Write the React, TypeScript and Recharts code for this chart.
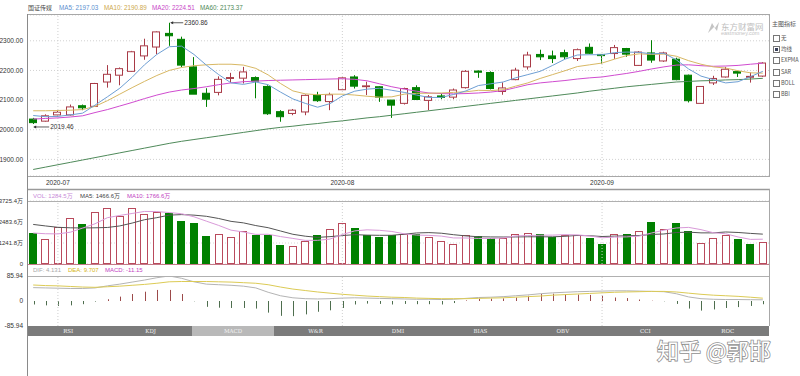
import React from "react";
import {
  ComposedChart,
  Bar,
  Line,
  XAxis,
  YAxis,
  CartesianGrid,
  ReferenceLine,
  ReferenceDot,
  ReferenceArea,
} from "recharts";

const SANS = '"Liberation Sans", Arial, "Noto Sans CJK SC", sans-serif';
const CJK = '"Noto Sans CJK SC", "Liberation Sans", sans-serif';

// ---------- data ----------
const dates = [
  "2020-06-29", "2020-06-30",
  "2020-07-01", "2020-07-02", "2020-07-03", "2020-07-06", "2020-07-07", "2020-07-08", "2020-07-09", "2020-07-10",
  "2020-07-13", "2020-07-14", "2020-07-15", "2020-07-16", "2020-07-17", "2020-07-20", "2020-07-21", "2020-07-22",
  "2020-07-23", "2020-07-24", "2020-07-27", "2020-07-28", "2020-07-29", "2020-07-30", "2020-07-31",
  "2020-08-03", "2020-08-04", "2020-08-05", "2020-08-06", "2020-08-07", "2020-08-10", "2020-08-11", "2020-08-12",
  "2020-08-13", "2020-08-14", "2020-08-17", "2020-08-18", "2020-08-19", "2020-08-20", "2020-08-21", "2020-08-24",
  "2020-08-25", "2020-08-26", "2020-08-27", "2020-08-28", "2020-08-31",
  "2020-09-01", "2020-09-02", "2020-09-03", "2020-09-04", "2020-09-07", "2020-09-08", "2020-09-09", "2020-09-10",
  "2020-09-11", "2020-09-14", "2020-09-15", "2020-09-16", "2020-09-17", "2020-09-18",
];

const opens = [
  2036, 2029, 2050, 2050, 2081, 2079, 2161, 2184, 2197, 2249,
  2279, 2325, 2305, 2212, 2123, 2126, 2173, 2174, 2176, 2146,
  2061, 2055, 2060, 2117, 2095, 2135, 2178, 2147, 2145, 2100,
  2089, 2142, 2099, 2114, 2110, 2142, 2198, 2193, 2129, 2169,
  2212, 2254, 2249, 2260, 2240, 2278, 2254, 2257, 2274, 2217,
  2259, 2232, 2238, 2184, 2089, 2158, 2178, 2196, 2177, 2181,
];
const highs = [
  2040, 2052, 2066, 2085, 2085, 2158, 2218, 2210, 2266, 2307,
  2332, 2360.86, 2314, 2245, 2140, 2180, 2192, 2212, 2180, 2150,
  2066, 2070, 2119, 2128, 2125, 2177, 2184, 2162, 2147, 2100,
  2142, 2150, 2117, 2122, 2139, 2201, 2200, 2197, 2160, 2209,
  2263, 2270, 2267, 2270, 2274, 2291, 2254, 2286, 2276, 2265,
  2302, 2263, 2243, 2186, 2147, 2182, 2212, 2199, 2193, 2228,
];
const lows = [
  2019.46, 2027, 2044, 2048, 2066, 2077, 2142, 2150, 2195, 2236,
  2255, 2283, 2211, 2120, 2077, 2116, 2160, 2156, 2106, 2050,
  2027, 2049, 2049, 2094, 2066, 2134, 2139, 2117, 2094, 2040,
  2085, 2100, 2066, 2103, 2103, 2139, 2175, 2136, 2118, 2167,
  2203, 2235, 2225, 2238, 2232, 2255, 2223, 2239, 2246, 2215,
  2226, 2229, 2167, 2092, 2088, 2151, 2176, 2178, 2159, 2178,
];
const closes = [
  2024, 2047, 2059, 2077, 2074, 2156, 2187, 2206, 2263, 2283,
  2330, 2317, 2218, 2120, 2103, 2170, 2176, 2195, 2164, 2054,
  2044, 2066, 2116, 2098, 2118, 2175, 2147, 2148, 2110, 2083,
  2139, 2102, 2111, 2109, 2134, 2197, 2194, 2139, 2141, 2201,
  2252, 2246, 2240, 2246, 2270, 2258, 2250, 2277, 2255, 2262,
  2235, 2259, 2169, 2098, 2146, 2173, 2204, 2191, 2180, 2225,
];

const ma5 = [
  2048, 2044, 2045, 2050, 2056, 2083, 2111, 2140, 2177, 2219,
  2254, 2280, 2282, 2254, 2218, 2186, 2158, 2153, 2161, 2152,
  2127, 2104, 2089, 2076, 2088, 2114, 2130, 2137, 2140, 2133,
  2126, 2117, 2109, 2109, 2119, 2131, 2149, 2155, 2161, 2175,
  2186, 2197, 2217, 2238, 2252, 2253, 2253, 2260, 2262, 2261,
  2256, 2258, 2236, 2205, 2181, 2169, 2158, 2162, 2179, 2197.03,
];
const ma10 = [
  2064, 2064, 2065, 2066, 2068, 2079, 2098, 2120, 2142, 2163,
  2183, 2200, 2210, 2216, 2219, 2221, 2221, 2218, 2207, 2185,
  2156, 2131, 2121, 2118, 2120, 2120, 2117, 2113, 2110, 2111,
  2120, 2123, 2123, 2124, 2126, 2128, 2133, 2132, 2135, 2147,
  2158, 2173, 2186, 2199, 2213, 2219, 2225, 2238, 2250, 2256,
  2254, 2255, 2248, 2233, 2221, 2212, 2208, 2199, 2192, 2190.89,
];
const ma20 = [
  2036, 2038, 2040, 2043, 2047, 2058, 2068, 2080, 2092, 2105,
  2117, 2127, 2134, 2139, 2145, 2152, 2158, 2162, 2164, 2166,
  2167, 2168, 2169, 2170, 2171, 2172, 2170, 2165, 2155, 2145,
  2137, 2130, 2124, 2122, 2121, 2122, 2124, 2127, 2132, 2142,
  2152, 2158, 2162, 2166, 2171, 2175, 2178, 2184, 2190, 2197,
  2205, 2212, 2218, 2219, 2216, 2214, 2215, 2217, 2221, 2224.51,
];
const ma60 = [
  1866, 1874, 1882, 1890, 1898, 1906, 1914, 1922, 1930, 1938,
  1946, 1954, 1961, 1967, 1973, 1979, 1985, 1991, 1997, 2003,
  2008, 2012, 2017, 2021, 2026, 2030, 2035, 2040, 2044, 2049,
  2054, 2059, 2064, 2069, 2074, 2079, 2084, 2089, 2094, 2099,
  2104, 2109, 2114, 2119, 2124, 2130, 2135, 2140, 2145, 2149,
  2153, 2157, 2161, 2163, 2165, 2166, 2168, 2169, 2171, 2173.37,
];

// volume in 万
const volumes = [
  1833, 1500, 2204, 2730, 2360, 3100, 3296, 2867, 3315, 2964,
  3062, 3003, 2516, 2418, 1677, 1794, 1599, 1970, 1716, 1716,
  1112, 1053, 1385, 1736, 2087, 2438, 2145, 1697, 1599, 1736,
  1755, 1775, 1599, 1385, 1190, 1736, 1658, 1560, 1560, 1775,
  1853, 1755, 1599, 1697, 1697, 1560, 1209, 1794, 1755, 1931,
  2477, 2048, 2438, 1931, 1268, 1560, 1736, 1502, 1209, 1284.5,
];
const volRise = [
  0, 1, 1, 1, 0, 1, 1, 1, 1, 1,
  1, 0, 0, 0, 0, 1, 1, 1, 0, 0,
  0, 1, 1, 0, 1, 1, 0, 0, 0, 0,
  1, 0, 1, 1, 1, 1, 0, 0, 1, 1,
  1, 0, 0, 1, 1, 0, 0, 1, 0, 1,
  0, 1, 0, 0, 1, 1, 1, 0, 0, 1,
];
const volMa5 = [
  1830, 1790, 1780, 1880, 2125, 2379, 2738, 2871, 2988, 3108,
  3101, 3042, 2972, 2793, 2535, 2282, 2001, 1892, 1751, 1759,
  1623, 1513, 1396, 1400, 1475, 1740, 1958, 2021, 1993, 1923,
  1786, 1712, 1693, 1650, 1541, 1537, 1514, 1506, 1541, 1658,
  1681, 1701, 1708, 1736, 1720, 1662, 1552, 1591, 1603, 1650,
  1833, 2001, 2130, 2165, 2032, 1849, 1787, 1599, 1455, 1466.6,
];
const volMa10 = [
  2340, 2250, 2170, 2140, 2130, 2140, 2160, 2250, 2420, 2617,
  2740, 2890, 2921, 2890, 2821, 2691, 2521, 2432, 2272, 2147,
  1952, 1757, 1644, 1575, 1617, 1681, 1735, 1708, 1696, 1699,
  1763, 1835, 1857, 1821, 1732, 1661, 1613, 1600, 1595, 1600,
  1609, 1607, 1607, 1638, 1689, 1671, 1626, 1649, 1669, 1685,
  1747, 1776, 1860, 1884, 1841, 1841, 1894, 1864, 1810, 1766.6,
];

const dif = [
  46, 45, 44, 43, 43, 45, 52, 58, 65, 72,
  80, 86, 78, 66, 58, 56, 54, 51, 45, 30,
  18, 11, 8, 7, 8, 10, 11, 10, 9, 8,
  7, 6, 6, 5, 6, 9, 12, 13, 15, 18,
  21, 25, 28, 30, 32, 33, 34, 35, 35, 34,
  33, 32, 25, 14, 8, 6, 5, 5, 4.5, 4.131,
];
const dea = [
  55, 53, 52, 50, 48, 47, 49, 51, 54, 57,
  61, 66, 67, 67, 67, 66, 65, 63, 61, 56,
  48, 41, 36, 31, 27, 23, 20, 17, 15, 13,
  12, 10, 9, 8, 8, 8, 9, 10, 11, 13,
  15, 17, 20, 22, 24, 26, 28, 30, 31, 32,
  33, 33, 31, 27, 23, 20, 18, 16, 13, 9.707,
];
const macdHist = [
  -12, -15, -17, -15, -11, -2, 6, 15, 24, 32,
  38, 38, 24, -1, -20, -23, -24, -24, -26, -40,
  -51, -52, -46, -37, -32, -24, -12, -9, -10, -12,
  -10, -11, -11, -12, -7, 2, 7, 8, 9, 12,
  18, 24, 25, 24, 22, 21, 18, 12, 10, 5,
  1, -1, -10, -26, -33, -29, -24, -21, -17, -11.15,
];

const monthTicks = ["2020-07-01", "2020-08-03", "2020-09-01"];
const priceTicks = [1900, 2000, 2100, 2200, 2300];
const volTicks = [0, 1241.8, 2483.6, 3725.4];
const macdTicks = [-85.94, 0, 85.94];
const yearTicks = [2015, 2016, 2017, 2018, 2019, 2020];
const indicatorTabs = ["RSI", "KDJ", "MACD", "W&R", "DMI", "BIAS", "OBV", "CCI", "ROC"];
const activeTab = "MACD";
const mainOptions = ["无", "均线", "EXPMA", "SAR", "BOLL", "BBI"];
const checkedOption = "均线";
const stockName = "国证传媒";

// ---------- colors ----------
const UP = "#a83a46";
const DOWN = "#008000";
const VOL_UP = "#b94a5c";
const MACD_UP = "#9c4a4a";
const MACD_DOWN = "#4e6e4e";

const rows = dates.map((date, i) => ({
  date,
  open: opens[i],
  high: highs[i],
  low: lows[i],
  close: closes[i],
  ma5: ma5[i],
  ma10: ma10[i],
  ma20: ma20[i],
  ma60: ma60[i],
  vol: volumes[i],
  volUp: volRise[i],
  vma5: volMa5[i],
  vma10: volMa10[i],
  dif: dif[i],
  dea: dea[i],
  macd: macdHist[i],
}));

const toYear = (d: string) => {
  const dt = new Date(d + "T00:00:00Z");
  const y = dt.getUTCFullYear();
  const s = Date.UTC(y, 0, 1);
  const e = Date.UTC(y + 1, 0, 1);
  return y + (dt.getTime() - s) / (e - s);
};
const winStart = toYear(dates[0]);
const winEnd = toYear(dates[dates.length - 1]);
const navRows = yearTicks.map((t) => ({ t }));

const last = (a: number[]) => a[a.length - 1];
const hiIdx = highs.indexOf(Math.max(...highs));
const loIdx = lows.indexOf(Math.min(...lows));

// ---------- shapes ----------
const Candle = (props: any) => {
  const { x, y, width, height, payload } = props;
  if (!payload) return null;
  const { open, close, high, low } = payload;
  const pHigh = Math.min(y, y + height);
  const pLow = Math.max(y, y + height);
  const span = high - low || 1;
  const toY = (v: number) => pHigh + ((high - v) / span) * (pLow - pHigh);
  const cx = Math.floor(x + width / 2) + 0.5;
  const rising = close >= open;
  const color = rising ? UP : DOWN;
  const yTop = toY(Math.max(open, close));
  const yBot = toY(Math.min(open, close));
  const bodyH = Math.max(yBot - yTop, 0.8);
  return (
    <g>
      <line x1={cx} x2={cx} y1={pHigh} y2={yTop} stroke={color} strokeWidth={1} />
      <line x1={cx} x2={cx} y1={yTop + bodyH} y2={pLow} stroke={color} strokeWidth={1} />
      <rect
        x={cx - 4}
        y={yTop}
        width={7}
        height={bodyH}
        fill={rising ? "#ffffff" : DOWN}
        stroke={color}
        strokeWidth={1}
      />
    </g>
  );
};

const VolBar = (props: any) => {
  const { x, y, width, height, payload } = props;
  if (!payload) return null;
  const top = Math.min(y, y + height);
  const bottom = Math.max(y, y + height);
  const rising = payload.volUp === 1;
  const l = Math.round(x) + 0.5;
  const t = Math.round(top) + 0.5;
  const h = Math.max(Math.round(bottom) - Math.round(top) - 1, 0);
  return (
    <rect
      x={l}
      y={t}
      width={Math.round(width) - 1}
      height={h}
      fill={rising ? "#ffffff" : DOWN}
      stroke={rising ? VOL_UP : DOWN}
      strokeWidth={1}
    />
  );
};

const MacdBar = (props: any) => {
  const { x, y, width, height, payload } = props;
  if (!payload) return null;
  const cx = Math.round(x + width / 2) + 0.5;
  return (
    <line
      x1={cx}
      x2={cx}
      y1={y}
      y2={y + height}
      stroke={payload.macd >= 0 ? MACD_UP : MACD_DOWN}
      strokeWidth={1}
    />
  );
};

const PeakMark = (p: any) => {
  const { cx, cy } = p;
  return (
    <g>
      <line x1={cx + 2} x2={cx + 14} y1={cy} y2={cy} stroke="#333" strokeWidth={0.8} />
      <path d={`M${cx + 1},${cy} l3,-1.6 l0,3.2 z`} fill="#333" />
      <text x={cx + 15} y={cy + 2.3} fontSize={6.5} fill="#333" fontFamily={SANS}>
        {highs[hiIdx].toFixed(2)}
      </text>
    </g>
  );
};

const TroughMark = (p: any) => {
  const { cx, cy } = p;
  const ly = cy + 3;
  return (
    <g>
      <line x1={cx + 1} x2={cx + 16} y1={ly} y2={ly} stroke="#333" strokeWidth={0.8} />
      <path d={`M${cx},${ly} l3,-1.6 l0,3.2 z`} fill="#333" />
      <text x={cx + 17} y={ly + 2.3} fontSize={6.5} fill="#333" fontFamily={SANS}>
        {lows[loIdx].toFixed(2)}
      </text>
    </g>
  );
};

const YearTick = (props: any) => {
  const { x, y, payload } = props;
  const px = Math.round(x) + 0.5;
  return (
    <g>
      <line x1={px} x2={px} y1={y - 15} y2={y} stroke="#666" strokeWidth={1} />
      <text x={px + 1.5} y={y - 7.5} fontSize={6.5} fill="#333" fontFamily={SANS}>
        {payload.value}
      </text>
    </g>
  );
};

const tickStyle = { fontSize: 6.5, fill: "#333", fontFamily: SANS };

export default function App() {
  return (
    <div
      style={{
        position: "absolute",
        left: 0,
        top: 0,
        width: 800,
        height: 376,
        overflow: "hidden",
        background: "#fff",
        fontFamily: SANS,
      }}
    >
      {/* main candlestick panel */}
      <div style={{ position: "absolute", left: 0, top: 0 }}>
        <ComposedChart width={800} height={188} data={rows} margin={{ top: 15, right: 31, bottom: 0, left: 0 }}>
          <CartesianGrid vertical={false} stroke="#d2d2d2" strokeDasharray="1 2" />
          <XAxis
            dataKey="date"
            ticks={monthTicks}
            interval={0}
            tickFormatter={(d: string) => d.slice(0, 7)}
            axisLine={false}
            tickLine={false}
            tickSize={0}
            tickMargin={4}
            height={12}
            tick={tickStyle}
          />
          <YAxis
            domain={[1844, 2387]}
            allowDataOverflow
            ticks={priceTicks}
            tickFormatter={(v: number) => v.toFixed(2)}
            width={27}
            axisLine={false}
            tickLine={false}
            tickSize={2}
            tickMargin={2}
            tick={tickStyle}
          />
          {monthTicks.map((d) => (
            <ReferenceLine key={d} x={d} stroke="#cfcfcf" strokeDasharray="1 2" />
          ))}
          <Bar dataKey={(r: any) => [r.low, r.high]} barSize={8} shape={Candle} isAnimationActive={false} />
          <Line dataKey="ma60" stroke="#4f8a5a" strokeWidth={1} dot={false} isAnimationActive={false} />
          <Line dataKey="ma20" stroke="#d04cd0" strokeWidth={1} dot={false} isAnimationActive={false} />
          <Line dataKey="ma10" stroke="#d8b864" strokeWidth={1} dot={false} isAnimationActive={false} />
          <Line dataKey="ma5" stroke="#6e9fd4" strokeWidth={1} dot={false} isAnimationActive={false} />
          <ReferenceDot x={dates[hiIdx]} y={highs[hiIdx]} ifOverflow="visible" shape={PeakMark} />
          <ReferenceDot x={dates[loIdx]} y={lows[loIdx]} ifOverflow="visible" shape={TroughMark} />
        </ComposedChart>
      </div>

      {/* volume panel */}
      <div style={{ position: "absolute", left: 0, top: 189 }}>
        <ComposedChart width={800} height={80} data={rows} margin={{ top: 12, right: 31, bottom: 5, left: 0 }}>
          <CartesianGrid vertical={false} stroke="#d8d8d8" strokeDasharray="1 2" />
          <XAxis dataKey="date" hide />
          <YAxis
            domain={[0, 3725.4]}
            allowDataOverflow
            ticks={volTicks}
            tickFormatter={(v: number) => (v === 0 ? "0" : `${v.toFixed(1)}万`)}
            width={27}
            axisLine={false}
            tickLine={false}
            tickSize={2}
            tickMargin={2}
            tick={{ ...tickStyle, fontSize: 6 }}
          />
          {monthTicks.map((d) => (
            <ReferenceLine key={d} x={d} stroke="#cfcfcf" strokeDasharray="1 2" />
          ))}
          <Bar dataKey="vol" barSize={8} shape={VolBar} isAnimationActive={false} />
          <Line dataKey="vma10" stroke="#555555" strokeWidth={1} dot={false} isAnimationActive={false} />
          <Line dataKey="vma5" stroke="#d99ad9" strokeWidth={1} dot={false} isAnimationActive={false} />
        </ComposedChart>
      </div>

      {/* MACD panel */}
      <div style={{ position: "absolute", left: 0, top: 264 }}>
        <ComposedChart width={800} height={72} data={rows} margin={{ top: 12, right: 31, bottom: 10, left: 0 }}>
          <XAxis dataKey="date" hide />
          <YAxis
            domain={[-85.94, 85.94]}
            allowDataOverflow
            ticks={macdTicks}
            tickFormatter={(v: number) => (v === 0 ? "0" : v.toFixed(2))}
            width={27}
            axisLine={false}
            tickLine={false}
            tickSize={2}
            tickMargin={2}
            tick={tickStyle}
          />
          {monthTicks.map((d) => (
            <ReferenceLine key={d} x={d} stroke="#cfcfcf" strokeDasharray="1 2" />
          ))}
          <Bar dataKey="macd" barSize={1} shape={MacdBar} isAnimationActive={false} />
          <Line dataKey="dif" stroke="#b4b4b4" strokeWidth={1} dot={false} isAnimationActive={false} />
          <Line dataKey="dea" stroke="#dccb55" strokeWidth={1} dot={false} isAnimationActive={false} />
        </ComposedChart>
      </div>

      {/* indicator tabs */}
      <div
        style={{
          position: "absolute",
          left: 27,
          top: 326,
          width: 742,
          height: 10,
          display: "flex",
          background: "#7b7b7b",
        }}
      >
        {indicatorTabs.map((t) => (
          <div
            key={t}
            style={{
              flex: 1,
              background: t === activeTab ? "#b9b9b9" : "#7b7b7b",
              color: "#f2f2f2",
              fontSize: 5.5,
              lineHeight: "10px",
              textAlign: "center",
              fontFamily: '"DejaVu Serif", serif',
            }}
          >
            {t}
          </div>
        ))}
      </div>

      {/* time navigator */}
      <div style={{ position: "absolute", left: 0, top: 336 }}>
        <ComposedChart width={800} height={40} data={navRows} margin={{ top: 0, right: 31, bottom: 0, left: 27 }}>
          <XAxis
            dataKey="t"
            type="number"
            domain={[2014.982, 2020.712]}
            allowDataOverflow
            ticks={yearTicks}
            interval={0}
            height={0}
            axisLine={false}
            tickLine={false}
            tickSize={0}
            tickMargin={0}
            tick={YearTick}
          />
          <YAxis hide type="number" domain={[0, 1]} />
          <ReferenceArea x1={winStart} x2={winEnd} y1={0} y2={0.56} fill="#d9d9d9" fillOpacity={1} stroke="none" ifOverflow="visible" />
          <ReferenceArea x1={winStart - 0.025} x2={winStart} y1={0.28} y2={0.7} fill="#8a8a8a" fillOpacity={1} stroke="none" ifOverflow="visible" />
          <ReferenceArea x1={winEnd - 0.005} x2={winEnd + 0.02} y1={0.28} y2={0.7} fill="#8a8a8a" fillOpacity={1} stroke="none" ifOverflow="visible" />
        </ComposedChart>
      </div>

      {/* frames, legends, side panel, watermarks */}
      <svg width={800} height={376} style={{ position: "absolute", left: 0, top: 0, pointerEvents: "none" }}>
        {/* main frame */}
        <rect x={27.5} y={14.5} width={742} height={162} fill="none" stroke="#a8a8a8" strokeWidth={1} />
        {/* volume + macd frame */}
        <line x1={27} x2={770} y1={189.5} y2={189.5} stroke="#9a9a9a" strokeWidth={1.5} />
        <line x1={27} x2={770} y1={201.5} y2={201.5} stroke="#b0b0b0" strokeWidth={1} />
        <line x1={27} x2={770} y1={264.5} y2={264.5} stroke="#c47a88" strokeWidth={1} />
        <line x1={27} x2={770} y1={276.5} y2={276.5} stroke="#b0b0b0" strokeWidth={1} />
        <line x1={769.5} x2={769.5} y1={189} y2={326} stroke="#a8a8a8" strokeWidth={1} />
        {/* long left axis */}
        <line x1={27.5} x2={27.5} y1={14} y2={376} stroke="#8a8a8a" strokeWidth={1} />

        {/* main legend */}
        <text y={10.3} fontSize={6} fontFamily={CJK} fill="#444">
          <tspan x={28}>{stockName}</tspan>
        </text>
        <text y={10.3} fontSize={6.3} fontFamily={SANS}>
          <tspan x={59} fill="#5b8fcf">{`MA5: ${last(ma5).toFixed(2)}`}</tspan>
          <tspan x={104} fill="#cda84c">{`MA10: ${last(ma10).toFixed(2)}`}</tspan>
          <tspan x={152} fill="#c847c8">{`MA20: ${last(ma20).toFixed(2)}`}</tspan>
          <tspan x={200} fill="#4d8a57">{`MA60: ${last(ma60).toFixed(2)}`}</tspan>
        </text>

        {/* volume legend */}
        <text y={197.8} fontSize={6} fontFamily={SANS}>
          <tspan x={33} fill="#c88ad8">{`VOL: ${last(volumes).toFixed(1)}万`}</tspan>
          <tspan x={80} fill="#444">{`MA5: ${last(volMa5).toFixed(1)}万`}</tspan>
          <tspan x={127} fill="#c23ec2">{`MA10: ${last(volMa10).toFixed(1)}万`}</tspan>
        </text>

        {/* macd legend */}
        <text y={272.3} fontSize={6} fontFamily={SANS}>
          <tspan x={33} fill="#a8a8a8">{`DIF: ${last(dif).toFixed(3)}`}</tspan>
          <tspan x={68} fill="#d4b419">{`DEA: ${last(dea).toFixed(3)}`}</tspan>
          <tspan x={105} fill="#c23ec2">{`MACD: ${last(macdHist).toFixed(2)}`}</tspan>
        </text>

        {/* eastmoney watermark */}
        <path d="M708,33 L712,23 L715,28 L719,22 L717,31 L714,27 Z" fill="#c4c4c4" />
        <text x={721} y={29.5} fontSize={8.5} fontFamily={CJK} fill="#c0c0c0">东方财富网</text>
        <text x={721} y={35} fontSize={5.5} fontFamily={SANS} fill="#c4c4c4">eastmoney.com</text>

        {/* right-side indicator options */}
        <text x={772} y={26} fontSize={6} fontFamily={CJK} fill="#555">主图指标</text>
        {mainOptions.map((o, i) => {
          const cy = 37.7 + i * 11.3;
          return (
            <g key={o}>
              <rect x={773.5} y={Math.round(cy - 3) + 0.5} width={6} height={6} fill="#fff" stroke="#777" strokeWidth={1} />
              {o === checkedOption && (
                <rect x={775} y={Math.round(cy - 3) + 2} width={3} height={3} fill="#39405a" />
              )}
              <text x={781} y={cy + 2} fontSize={5.5} fontFamily={CJK} fill="#555">{o}</text>
            </g>
          );
        })}

        {/* zhihu watermark */}
        <text
          x={657}
          y={359}
          fontSize={22}
          fontFamily={CJK}
          fill="#ffffff"
          stroke="#8f8f8f"
          strokeWidth={1.6}
          style={{ paintOrder: "stroke" }}
        >
          知乎 @郭邯
        </text>
      </svg>
    </div>
  );
}
